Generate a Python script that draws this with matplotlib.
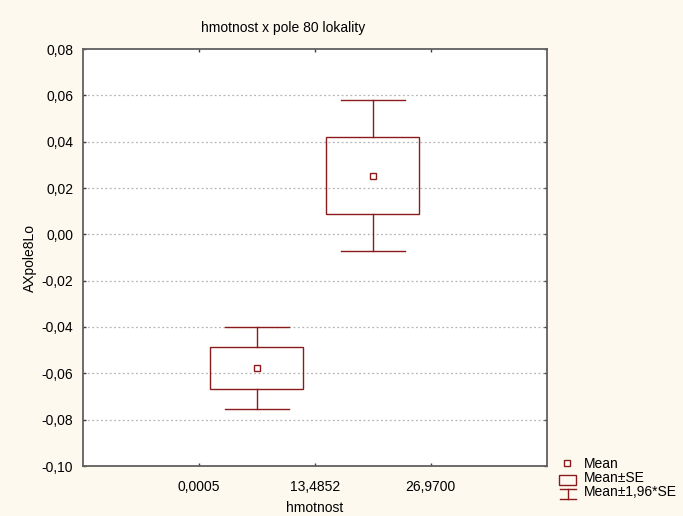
import numpy as np
import matplotlib
matplotlib.use("Agg")
import matplotlib.pyplot as plt
from matplotlib.patches import Rectangle

plt.rcParams['font.family'] = ['Liberation Sans', 'DejaVu Sans']

# group positions sit between the category boundaries
x_ticks = [1, 2, 3]
x_ticklabels = ['0,0005', '13,4852', '26,9700']
group_pos = [1.5, 2.5]
means = [-0.0577, 0.0253]
se = [0.0091, 0.0166]
y_ticks = [0.08, 0.06, 0.04, 0.02, 0.00, -0.02, -0.04, -0.06, -0.08, -0.10]

red = '#8b1a1a'
bg = '#fdf9ef'
fs = 10

fig = plt.figure(figsize=(6.83, 5.16), dpi=100, facecolor=bg)
ax = fig.add_axes([83 / 683, 1 - 466 / 516, (546.5 - 83) / 683, (466 - 49) / 516])
ax.set_facecolor('white')

box_w = 0.8
cap_w = 0.55
for x, m, s in zip(group_pos, means, se):
    lo, hi = m - 1.96 * s, m + 1.96 * s
    # whiskers
    ax.plot([x, x], [m + s, hi], color=red, lw=1, zorder=3)
    ax.plot([x, x], [lo, m - s], color=red, lw=1, zorder=3)
    ax.plot([x - cap_w / 2, x + cap_w / 2], [hi, hi], color=red, lw=1, zorder=3)
    ax.plot([x - cap_w / 2, x + cap_w / 2], [lo, lo], color=red, lw=1, zorder=3)
    # box
    ax.add_patch(Rectangle((x - box_w / 2, m - s), box_w, 2 * s, fill=False,
                           edgecolor=red, lw=1, zorder=3))
    # mean
    ax.plot(x, m, marker='s', ms=4.5, mfc='white', mec=red, mew=1, zorder=4)

ax.set_xlim(0, 4)
ax.set_ylim(-0.10, 0.08)
ax.set_xticks(x_ticks)
ax.set_xticklabels(x_ticklabels)
ax.set_yticks(y_ticks)
ax.set_yticklabels([('%.2f' % v).replace('.', ',') for v in y_ticks])
ax.tick_params(direction='in', length=2, width=1, colors='#404040', labelcolor='black',
               labelsize=fs, top=True, right=True)
ax.tick_params(axis='y', pad=7)
ax.tick_params(axis='x', pad=10)
for v in y_ticks[1:-1]:
    ax.axhline(v, color='#b5b5b5', lw=0.9, ls=(0, (1.5, 2)), zorder=1)
for sp in ax.spines.values():
    sp.set_color('#606060')
    sp.set_linewidth(1.3)

ax.set_xlabel('hmotnost', fontsize=fs, labelpad=5)
ax.set_ylabel('AXpole8Lo', fontsize=fs, labelpad=3)
fig.text(283 / 683, 1 - 28 / 516, 'hmotnost x pole 80 lokality', ha='center', va='center', fontsize=fs)

# legend drawn by hand in pixel space
lg = fig.add_axes([0, 0, 1, 1])
lg.set_xlim(0, 683)
lg.set_ylim(516, 0)
lg.axis('off')
lg.plot(567, 463, marker='s', ms=4.5, mfc='white', mec=red, mew=1)
lg.add_patch(Rectangle((559, 475), 17, 10, fill=False, edgecolor=red, lw=1))
lg.plot([560, 576], [489, 489], color=red, lw=1)
lg.plot([568, 568], [489, 499], color=red, lw=1)
lg.plot([560, 576], [499, 499], color=red, lw=1)
lg.text(584, 464, 'Mean', va='center', fontsize=fs)
lg.text(584, 478, 'Mean\u00b1SE', va='center', fontsize=fs)
lg.text(584, 492, 'Mean\u00b11,96*SE', va='center', fontsize=fs)

fig.savefig('out.png', dpi=100, facecolor=bg)
